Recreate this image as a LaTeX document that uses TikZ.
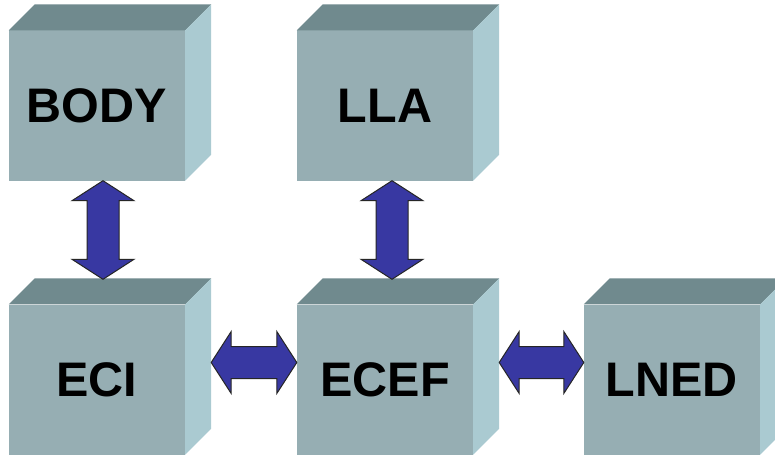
\documentclass[tikz,border=0pt]{standalone}
\usepackage{fontspec}
\setmainfont{Liberation Sans}
\usetikzlibrary{calc}

\definecolor{frontface}{RGB}{150,174,179}
\definecolor{topface}{RGB}{112,138,142}
\definecolor{sideface}{RGB}{170,202,209}
\definecolor{arrowblue}{RGB}{56,56,162}

\tikzset{
  fatarrow/.style={fill=arrowblue, draw=black!85, line width=1pt, line join=miter,
    to path={
      (\tikztostart)
      -- ($(\tikztostart)!20pt!(\tikztotarget)!31pt!90:(\tikztotarget)$)
      -- ($(\tikztostart)!20pt!(\tikztotarget)!16pt!90:(\tikztotarget)$)
      -- ($(\tikztotarget)!20pt!(\tikztostart)!16pt!-90:(\tikztostart)$)
      -- ($(\tikztotarget)!20pt!(\tikztostart)!31pt!-90:(\tikztostart)$)
      -- (\tikztotarget)
      -- ($(\tikztotarget)!20pt!(\tikztostart)!31pt!90:(\tikztostart)$)
      -- ($(\tikztotarget)!20pt!(\tikztostart)!16pt!90:(\tikztostart)$)
      -- ($(\tikztostart)!20pt!(\tikztotarget)!16pt!-90:(\tikztotarget)$)
      -- ($(\tikztostart)!20pt!(\tikztotarget)!31pt!-90:(\tikztotarget)$)
      -- cycle}}
}

\begin{document}
\begin{tikzpicture}[x=1pt,y=1pt]

        \clip (0,0) rectangle (775,459);
        \fill[white] (0,0) rectangle (775,459);

        \begin{scope}[every node/.style={fill=frontface, minimum width=176pt, minimum height=150pt,
            inner sep=0pt, font=\fontsize{48.5}{48.5}\selectfont\bfseries}]
          \node (body)  at (97,353.5)  {BODY};
          \node (lla)   at (385,353.5) {LLA};
          \node (eci)   at (97,79.5)   {ECI};
          \node (ecef)  at (385,79.5)  {ECEF};
          \node (lned)  at (672,79.5)  {LNED};
        \end{scope}

        % top and side faces of the cubes
        \foreach \n in {body,lla,eci,ecef,lned}{
          \fill[topface] (\n.north west) -- ++(26,26) -- ([shift={(26,26)}]\n.north east)
            -- (\n.north east) -- cycle;
          \fill[sideface] (\n.north east) -- ++(26,26) -- ([shift={(26,26)}]\n.south east)
            -- (\n.south east) -- cycle;
        }

        \begin{scope}[every path/.style={fatarrow}]
          \path ([xshift=6pt]body.south) to ([shift={(6pt,25pt)}]eci.north);
          \path ([xshift=7pt]lla.south) to ([shift={(7pt,25pt)}]ecef.north);
          \path ([shift={(26pt,17pt)}]eci.east) to ([yshift=17pt]ecef.west);
          \path ([shift={(26pt,17pt)}]ecef.east) to ([yshift=17pt]lned.west);
        \end{scope}

      \end{tikzpicture}
\end{document}
